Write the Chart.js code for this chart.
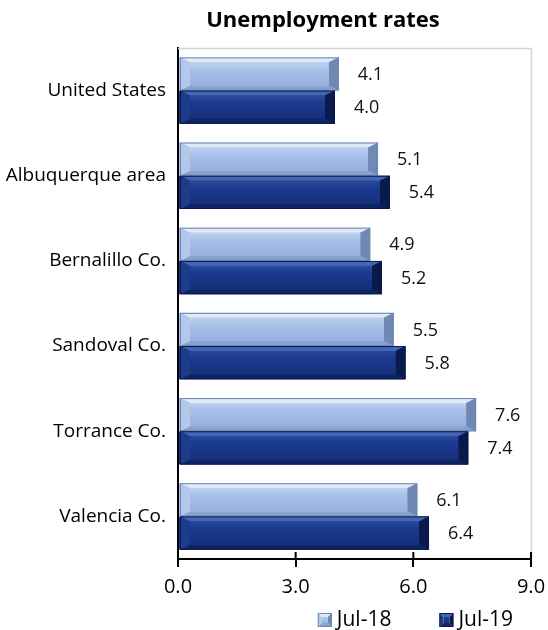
<!DOCTYPE html>
<html>
<head>
<meta charset="utf-8">
<script src="https://cdn.jsdelivr.net/npm/chart.js@4/dist/chart.umd.min.js"></script>
<style>
body{margin:0;background:#fff;}
#wrap{width:548px;height:630px;}
</style>
</head>
<body>
<div id="wrap"><canvas id="rateChart"></canvas></div>
<script>
const categories = ["United States","Albuquerque area","Bernalillo Co.","Sandoval Co.","Torrance Co.","Valencia Co."];
const jul18 = [4.1, 5.1, 4.9, 5.5, 7.6, 6.1];
const jul19 = [4.0, 5.4, 5.2, 5.8, 7.4, 6.4];
const seriesNames = ["Jul-18","Jul-19"];
const xTicks = [0, 3, 6, 9];

const FONT = "'Open Sans', sans-serif";

const palettes = [
    {face:["#d0def4","#a9c2e9","#8fabdb"], top:"#dfe9f8", bottom:"#86a2d1", right:"#7088b4", left:"#b3c8ea", edge:"#6f86b0"},
    {face:["#3456aa","#1c3b8f","#132c74"], top:"#4565b5", bottom:"#0f2462", right:"#0b1a4c", left:"#1d3c8c", edge:"#0a1a48"}
];

function bevelBox(ctx, x0, x1, y0, y1, pal, d, dr){
    const grad = ctx.createLinearGradient(0, y0, 0, y1);
    grad.addColorStop(0, pal.face[0]);
    grad.addColorStop(0.35, pal.face[1]);
    grad.addColorStop(1, pal.face[2]);

    ctx.fillStyle = pal.top;
    ctx.beginPath();
    ctx.moveTo(x0,y0); ctx.lineTo(x1,y0); ctx.lineTo(x1-dr,y0+d); ctx.lineTo(x0+dr,y0+d);
    ctx.closePath(); ctx.fill();

    ctx.fillStyle = pal.bottom;
    ctx.beginPath();
    ctx.moveTo(x0,y1); ctx.lineTo(x1,y1); ctx.lineTo(x1-dr,y1-d); ctx.lineTo(x0+dr,y1-d);
    ctx.closePath(); ctx.fill();

    ctx.fillStyle = pal.right;
    ctx.beginPath();
    ctx.moveTo(x1,y0); ctx.lineTo(x1,y1); ctx.lineTo(x1-dr,y1-d); ctx.lineTo(x1-dr,y0+d);
    ctx.closePath(); ctx.fill();

    ctx.fillStyle = pal.left;
    ctx.beginPath();
    ctx.moveTo(x0,y0); ctx.lineTo(x0,y1); ctx.lineTo(x0+dr,y1-d); ctx.lineTo(x0+dr,y0+d);
    ctx.closePath(); ctx.fill();

    ctx.fillStyle = grad;
    ctx.fillRect(x0+dr, y0+d, x1-x0-2*dr, y1-y0-2*d);

    ctx.strokeStyle = pal.edge;
    ctx.lineWidth = 1;
    ctx.strokeRect(x0+0.5, y0+0.5, x1-x0-1, y1-y0-1);
}

// redraws each bar with a bevelled look, using the positions the bar controller computed
const bevelPlugin = {
    id:"bevel",
    afterDatasetsDraw(chart){
        const ctx = chart.ctx;
        ctx.save();
        chart.data.datasets.forEach((ds, i) => {
            chart.getDatasetMeta(i).data.forEach(bar => {
                const p = bar.getProps(["x","y","base","height"], true);
                const y0 = p.y - p.height/2, y1 = p.y + p.height/2;
                const x0 = Math.min(p.base, p.x) + 1, x1 = Math.max(p.base, p.x);
                bevelBox(ctx, x0, x1, y0, y1, palettes[i], 5, 10);
            });
        });
        ctx.restore();
    }
};

const labelPlugin = {
    id:"valueLabels",
    afterDatasetsDraw(chart){
        const ctx = chart.ctx;
        ctx.save();
        ctx.font = "18px " + FONT;
        ctx.fillStyle = "#111";
        ctx.textAlign = "left";
        ctx.textBaseline = "middle";
        chart.data.datasets.forEach((ds, i) => {
            chart.getDatasetMeta(i).data.forEach((bar, j) => {
                ctx.fillText(ds.data[j].toFixed(1), bar.x + 19, bar.y + 1);
            });
        });
        ctx.restore();
    }
};

const framePlugin = {
    id:"frame",
    beforeDatasetsDraw(chart){
        const a = chart.chartArea;
        const ctx = chart.ctx;
        ctx.save();
        ctx.strokeStyle = "#d4d4d4";
        ctx.lineWidth = 1.5;
        ctx.beginPath();
        ctx.moveTo(a.left, a.top + 0.5);
        ctx.lineTo(a.right + 0.5, a.top + 0.5);
        ctx.lineTo(a.right + 0.5, a.bottom);
        ctx.stroke();
        ctx.restore();
    },
    afterDraw(chart){
        const ctx = chart.ctx;
        const a = chart.chartArea;
        const xs = chart.scales.x;
        ctx.save();
        // inner half of the cross tick marks
        ctx.strokeStyle = "#000";
        ctx.lineWidth = 2;
        xs.ticks.forEach(t => {
            if(t.value === 0) return;
            const px = xs.getPixelForValue(t.value);
            ctx.beginPath();
            ctx.moveTo(px, a.bottom - 7);
            ctx.lineTo(px, a.bottom);
            ctx.stroke();
        });

        // title
        ctx.fillStyle = "#000";
        ctx.font = "bold 22px " + FONT;
        ctx.textAlign = "center";
        ctx.textBaseline = "middle";
        ctx.fillText("Unemployment rates", 323, 21);

        // legend
        ctx.font = "21px " + FONT;
        ctx.textAlign = "left";
        const widths = seriesNames.map(n => ctx.measureText(n).width);
        const total = widths[0] + widths[1] + 2*(14+5) + 48;
        let x = 513 - total;
        const ly = 620;
        seriesNames.forEach((n, i) => {
            bevelBox(ctx, x, x+14, ly-7, ly+7, palettes[i], 4, 4);
            ctx.fillStyle = "#000";
            ctx.fillText(n, x + 19, ly);
            x += 19 + widths[i] + 48;
        });
        ctx.restore();
    }
};

new Chart(
document.getElementById("rateChart"),
{
    type:"bar",
    data:{
        labels:categories,
        datasets:[
            {label:seriesNames[0], data:jul18, backgroundColor:"#a9c2e9"},
            {label:seriesNames[1], data:jul19, backgroundColor:"#1c3b8f"}
        ]
    },
    options:{
        indexAxis:"y",
        responsive:true,
        maintainAspectRatio:false,
        animation:false,
        categoryPercentage:0.78,
        barPercentage:1,
        layout:{padding:{top:48, right:17, bottom:23, left:0}},
        plugins:{
            legend:{display:false},
            title:{display:false},
            tooltip:{enabled:false}
        },
        scales:{
            x:{
                min:0,
                max:9,
                afterBuildTicks(scale){
                    scale.ticks = xTicks.map(v => ({value:v}));
                },
                afterFit(scale){ scale.paddingRight = 0; },
                ticks:{
                    color:"#000",
                    font:{family:FONT, size:20},
                    padding:8,
                    callback:v => Number(v).toFixed(1)
                },
                grid:{drawOnChartArea:false, drawTicks:true, tickLength:8, color:"#000", lineWidth:2},
                border:{display:true, color:"#000", width:2}
            },
            y:{
                afterFit(scale){ scale.width = 178; },
                ticks:{
                    color:"#000",
                    font:{family:FONT, size:19},
                    padding:4
                },
                grid:{display:false},
                border:{display:true, color:"#000", width:2}
            }
        }
    },
    plugins:[framePlugin, bevelPlugin, labelPlugin]
});
</script>
</body>
</html>
